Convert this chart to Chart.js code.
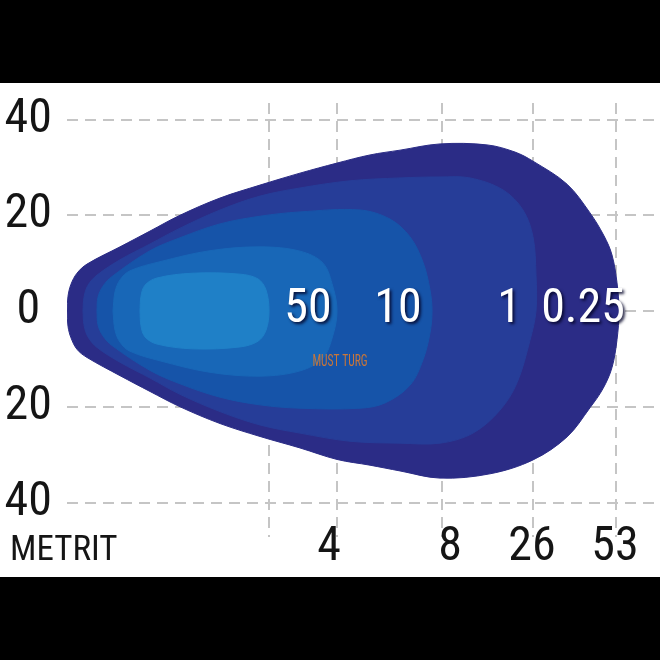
<!DOCTYPE html>
<html><head><meta charset="utf-8">
<style>html,body{margin:0;padding:0;background:#000;overflow:hidden}canvas{display:block}</style>
<script src="https://cdn.jsdelivr.net/npm/chart.js@4/dist/chart.umd.min.js"></script>
</head><body>
<canvas id="c" width="660" height="660"></canvas>
<script>
const FONT = '"Liberation Sans Narrow","Arial Narrow","Roboto Condensed","DejaVu Sans Condensed",sans-serif';

// Axis ticks
const yTicks = [-40, -20, 0, 20, 40];
const xGrid = [40.4, 54, 75, 93.2, 109.8];
const xLabelPos = [52.4, 76.6, 93, 109.6];
const xLabels = ['4', '8', '26', '53'];
const axisTitle = 'METRIT';

// Lux contour labels
const luxLabels = ['50', '10', '1', '0.25'];
const luxLabelX = [48.2, 66.2, 88.4, 103.2];
const luxLabelY = 0.2;

// Contour zones (outer -> inner), [x, y] outline points
const zone1 = [[0,0],[0.2,3.1],[0.8,5.6],[2,7.9],[4,9.8],[10.6,13.4],[16.6,16.7],[22.6,20],[30.6,23.6],[38.6,26.3],[46.6,28.8],[54,30.9],[60.6,32.6],[66.6,33.6],[74.6,34.9],[84,34.7],[89.6,33.2],[93.2,31.3],[100,26.5],[104.6,20.5],[107.4,15.7],[109,11.7],[110,5.9],[110.4,0],[110,-6],[109,-11.8],[107.2,-16.2],[104.6,-20.2],[100,-26.3],[93.2,-31.1],[84.6,-34],[74.6,-34.9],[66.6,-33.4],[60.6,-32.2],[54,-31],[46.6,-28.6],[38.6,-26.2],[30.6,-23.5],[22.6,-20],[16.6,-16.8],[10.6,-13.5],[4,-9.7],[2,-8],[0.8,-5.6],[0.2,-3.2]];
const zone2 = [[3.2,0],[3.4,2.9],[4.2,5.4],[6,7.5],[10.6,10.7],[16.6,14],[22.6,17.3],[30.6,21.1],[38.6,24],[46.6,25.7],[56.6,27.2],[66.6,27.8],[74.6,28],[80.6,27.8],[87.2,25.3],[91.2,21.1],[93.2,15.5],[93.8,7.5],[93.8,0],[92.6,-6.1],[90,-15],[86.6,-20.7],[81.2,-25.5],[74.6,-27.6],[66.6,-27.6],[56.6,-27.2],[46.6,-25.5],[38.6,-23.8],[30.6,-21],[22.6,-17.4],[16.6,-14],[10.6,-10.7],[6,-7.6],[4.2,-5.4],[3.4,-2.9]];
const zone3 = [[6,0],[6.2,2.9],[7.2,5.2],[9,7.2],[16.6,12.6],[22.6,15.3],[30.6,18.2],[38.6,19.8],[46.6,20.7],[58.6,21.1],[64.6,19.2],[68.6,15.5],[71.2,10.2],[72.6,4.4],[73,0],[72.6,-4.6],[71.2,-10.2],[68.6,-15.5],[63.6,-19.2],[58.6,-20.3],[46.6,-20.3],[38.6,-19.6],[30.6,-18],[22.6,-15.2],[16.6,-12.4],[9,-7.2],[7.2,-5.2],[6.2,-2.9]];
const zone4 = [[9.2,0],[9.6,4],[10.6,6.5],[12.6,8.4],[18.6,10.3],[28.6,12.6],[38.6,13.4],[46.6,12.5],[51.2,10],[53.2,5],[54,0],[53.2,-5],[51.2,-9.8],[46.6,-12.5],[38.6,-13.6],[28.6,-12.8],[18.6,-10.4],[12.6,-8.4],[10.6,-6.5],[9.6,-4]];
const zone5 = [[14.6,0],[14.8,3.1],[15.6,5.4],[18,6.9],[25.2,7.9],[34.6,7.7],[38.2,6.7],[39.8,4.4],[40.4,0],[39.8,-4],[38.2,-6.3],[34.6,-7.5],[25.2,-7.9],[18,-6.9],[15.6,-5.4],[14.8,-3.1]];
const zones = [zone1, zone2, zone3, zone4, zone5];
const zoneColors = ['#2b2c86', '#263d98', '#1654a9', '#1867b7', '#1f80c7'];

const X_MIN = 0, X_MAX = 118, Y_MIN = -47.2, Y_MAX = 43.45;

const datasets = zones.map((pts, i) => ({
  data: pts.concat([pts[0]]).map(p => ({x: p[0], y: p[1]})),
  showLine: true,
  fill: 'shape',
  backgroundColor: zoneColors[i],
  borderColor: zoneColors[i],
  borderWidth: 1,
  pointRadius: 0,
  pointHoverRadius: 0,
  tension: 0.35,
  xAxisID: 'x',
  yAxisID: 'y',
  order: 10 - i
}));

const GRID = '#bdbdbd';
const OVER = 'rgba(255,255,255,0.13)';
const DASH = [11, 7];

const bgPlugin = {
  id: 'bg',
  beforeDraw(chart) {
    const c = chart.ctx;
    c.save();
    c.fillStyle = '#000';
    c.fillRect(0, 0, chart.width, chart.height);
    c.fillStyle = '#fff';
    c.fillRect(0, 83, chart.width, 494);
    c.restore();
  }
};

const textPlugin = {
  id: 'texts',
  afterDraw(chart) {
    const {ctx, scales} = chart;
    const xs = scales.x, ys = scales.y;

    // x tick labels (drawn here so they may rise above the plot bottom like the original)
    ctx.save();
    ctx.fillStyle = '#151515';
    ctx.font = '48px ' + FONT;
    ctx.textAlign = 'center';
    ctx.textBaseline = 'alphabetic';
    xLabels.forEach((t, i) => ctx.fillText(t, xs.getPixelForValue(xLabelPos[i]), 560));
    ctx.font = '35px ' + FONT;
    ctx.textAlign = 'left';
    ctx.fillText(axisTitle, 10, 560);
    ctx.restore();

    // lux labels
    ctx.save();
    ctx.font = '48px ' + FONT;
    ctx.textAlign = 'center';
    ctx.textBaseline = 'middle';
    ctx.shadowColor = 'rgba(5,5,40,0.85)';
    ctx.shadowOffsetX = 2;
    ctx.shadowOffsetY = 2;
    ctx.shadowBlur = 3;
    ctx.fillStyle = '#ffffff';
    luxLabels.forEach((t, i) => {
      ctx.fillText(t, xs.getPixelForValue(luxLabelX[i]), ys.getPixelForValue(luxLabelY));
    });
    ctx.restore();

    // watermark
    ctx.save();
    ctx.translate(340, 366);
    ctx.scale(0.72, 1);
    ctx.font = '16px ' + FONT;
    ctx.fillStyle = '#c8763a';
    ctx.textAlign = 'center';
    ctx.textBaseline = 'alphabetic';
    ctx.fillText('MUST TURG', 0, 0);
    ctx.restore();
  }
};

new Chart(document.getElementById('c'), {
  type: 'scatter',
  data: {datasets},
  plugins: [bgPlugin, textPlugin],
  options: {
    responsive: false,
    animation: false,
    devicePixelRatio: 1,
    layout: {padding: {top: 103, right: 3, left: 0, bottom: 0}},
    plugins: {legend: {display: false}, tooltip: {enabled: false}},
    events: [],
    scales: {
      x: {
        type: 'linear', position: 'bottom', min: X_MIN, max: X_MAX,
        grid: {display: false, drawTicks: false},
        border: {display: false},
        afterBuildTicks: a => { a.ticks = xLabelPos.map(v => ({value: v})); },
        afterFit: a => { a.height = 123; },
        ticks: {display: false}
      },
      xg: {
        type: 'linear', position: 'bottom', min: X_MIN, max: X_MAX,
        grid: {color: GRID, lineWidth: 2, drawTicks: false},
        border: {display: false, dash: DASH},
        afterBuildTicks: a => { a.ticks = xGrid.map(v => ({value: v})); },
        afterFit: a => { a.height = 0; },
        ticks: {display: false}
      },
      xo: {
        type: 'linear', position: 'bottom', min: X_MIN, max: X_MAX, z: 1,
        grid: {color: OVER, lineWidth: 2, drawTicks: false},
        border: {display: false, dash: DASH},
        afterBuildTicks: a => { a.ticks = xGrid.map(v => ({value: v})); },
        afterFit: a => { a.height = 0; },
        ticks: {display: false}
      },
      y: {
        type: 'linear', position: 'left', min: Y_MIN, max: Y_MAX,
        grid: {color: GRID, lineWidth: 2, drawTicks: false},
        border: {display: false, dash: DASH},
        afterBuildTicks: a => { a.ticks = yTicks.map(v => ({value: v})); },
        afterFit: a => { a.width = 67; },
        ticks: {
          padding: 15, crossAlign: 'center', color: '#151515',
          font: {family: FONT, size: 48},
          callback: v => String(Math.abs(v))
        }
      },
      yo: {
        type: 'linear', position: 'left', min: Y_MIN, max: Y_MAX, z: 1,
        grid: {color: OVER, lineWidth: 2, drawTicks: false},
        border: {display: false, dash: DASH},
        afterBuildTicks: a => { a.ticks = yTicks.map(v => ({value: v})); },
        afterFit: a => { a.width = 0; },
        ticks: {display: false}
      }
    }
  }
});
</script>
</body></html>
